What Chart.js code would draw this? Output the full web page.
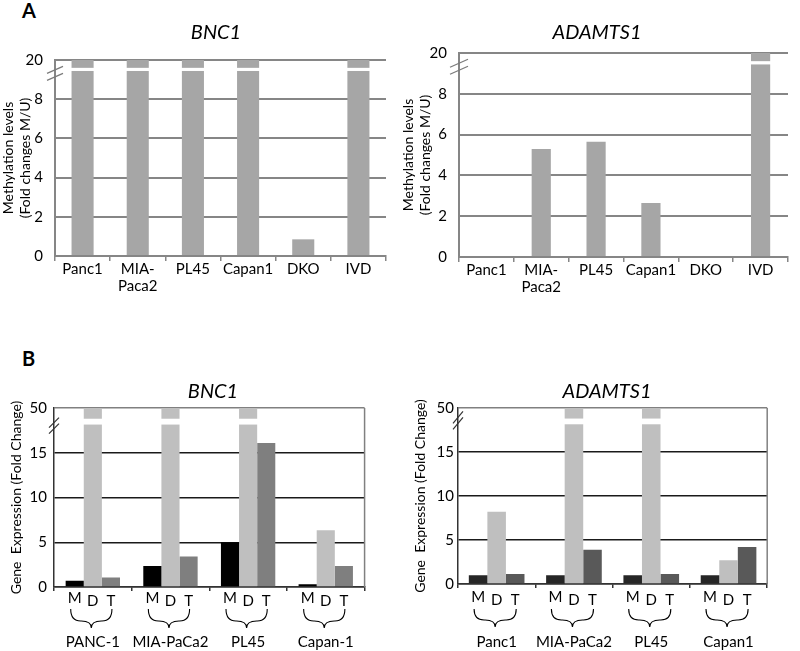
<!DOCTYPE html>
<html><head><meta charset="utf-8">
<script src="https://cdn.jsdelivr.net/npm/chart.js@4.4.1/dist/chart.umd.min.js"></script>
<style>
html,body{margin:0;padding:0;background:#fff;}
body{width:800px;height:651px;position:relative;overflow:hidden;font-family:Lato, sans-serif;}
canvas{position:absolute;}
.letter{position:absolute;font:bold 20px Lato, sans-serif;color:#000;line-height:20px;}
</style></head><body>
<div class="letter" style="left:22px;top:0px">A</div>
<div class="letter" style="left:22px;top:348px">B</div>
<canvas id="a1" width="400" height="300" style="left:0;top:0"></canvas>
<canvas id="a2" width="400" height="300" style="left:400px;top:0"></canvas>
<canvas id="b1" width="400" height="281" style="left:0;top:370px"></canvas>
<canvas id="b2" width="400" height="281" style="left:400px;top:370px"></canvas>
<script>
// ---------- data ----------
const methCategories = ['Panc1', ['MIA-', 'Paca2'], 'PL45', 'Capan1', 'DKO', 'IVD'];
const bnc1Methylation = [20, 20, 20, 20, 0.85, 20];
const adamts1Methylation = [0, 5.3, 5.65, 2.65, 0, 20];
const methTickLabels = {0: '0', 2: '2', 4: '4', 6: '6', 8: '8', 10: '20'};

const treatments = ['M', 'D', 'T'];
const bnc1ExprGroups = ['PANC-1', 'MIA-PaCa2', 'PL45', 'Capan-1'];
const bnc1M = [0.7, 2.35, 5.0, 0.3];
const bnc1D = [50, 50, 50, 6.35];
const bnc1T = [1.05, 3.4, 16.1, 2.35];
const adamts1ExprGroups = ['Panc1', 'MIA-PaCa2', 'PL45', 'Capan1'];
const adamts1M = [1.0, 1.0, 1.0, 1.0];
const adamts1D = [8.2, 50, 50, 2.7];
const adamts1T = [1.15, 3.9, 1.15, 4.2];
const exprTickLabels = {0: '0', 5: '5', 10: '10', 15: '15', 20: '50'};

// axis breaks: values >= label are drawn up to 'top' of the axis
const methBreak = {label: 20, top: 10, gapLow: 9.44, gapHigh: 9.6};
const exprBreak = {label: 50, top: 20, gapLow: 18.15, gapHigh: 18.8};
function axisVal(v, brk) { return v >= brk.label ? brk.top : v; }

// ---------- plugins ----------
Chart.defaults.font.family = 'Lato, sans-serif';
Chart.defaults.color = '#000';

const panelTitle = {
  id: 'panelTitle',
  afterDraw(chart, args, o) {
    const ctx = chart.ctx;
    ctx.save();
    ctx.font = 'italic 20px Lato, sans-serif';
    ctx.fillStyle = '#000';
    ctx.textAlign = 'center';
    ctx.textBaseline = 'middle';
    ctx.fillText(o.text, o.x, o.y);
    ctx.restore();
  }
};

const brokenAxis = {
  id: 'brokenAxis',
  afterDatasetsDraw(chart, args, o) {
    const ctx = chart.ctx, y = chart.scales.y;
    const yHi = y.getPixelForValue(o.brk.gapHigh), yLo = y.getPixelForValue(o.brk.gapLow);
    ctx.save();
    ctx.fillStyle = '#fff';
    chart.data.datasets.forEach((ds, i) => {
      const meta = chart.getDatasetMeta(i);
      ds.rawValues.forEach((v, j) => {
        if (v >= o.brk.label) {
          const el = meta.data[j];
          ctx.fillRect(el.x - el.width / 2 - 1, yHi, el.width + 2, yLo - yHi);
        }
      });
    });
    ctx.restore();
  },
  afterDraw(chart, args, o) {
    const ctx = chart.ctx, y = chart.scales.y;
    const x = chart.chartArea.left;
    const cy = y.getPixelForValue((o.brk.gapHigh + o.brk.gapLow) / 2) + o.markDy;
    ctx.save();
    ctx.strokeStyle = o.markColor;
    ctx.lineWidth = 1.2;
    o.offsets.forEach(off => {
      ctx.beginPath();
      ctx.moveTo(x - o.mx, cy + o.my + off);
      ctx.lineTo(x + o.mx, cy - o.my + off);
      ctx.stroke();
    });
    if (o.rightBorder) {
      ctx.strokeStyle = o.rightBorder;
      ctx.lineWidth = 1.5;
      ctx.beginPath();
      ctx.moveTo(chart.chartArea.right, chart.chartArea.top);
      ctx.lineTo(chart.chartArea.right, chart.chartArea.bottom);
      ctx.stroke();
    }
    ctx.restore();
  }
};

function drawBrace(ctx, x0, x1, top, mid, tip) {
  const xc = (x0 + x1) / 2, r = Math.min(10, (x1 - x0) / 4);
  ctx.beginPath();
  ctx.moveTo(x0, top);
  ctx.quadraticCurveTo(x0, mid, x0 + r, mid);
  ctx.lineTo(xc - r, mid);
  ctx.quadraticCurveTo(xc, mid, xc, tip);
  ctx.quadraticCurveTo(xc, mid, xc + r, mid);
  ctx.lineTo(x1 - r, mid);
  ctx.quadraticCurveTo(x1, mid, x1, top);
  ctx.stroke();
}

const groupMarks = {
  id: 'groupMarks',
  afterDraw(chart, args, o) {
    if (!o.on) return;
    const ctx = chart.ctx, base = chart.chartArea.bottom;
    ctx.save();
    ctx.fillStyle = '#000';
    ctx.font = '15px Lato, sans-serif';
    ctx.textAlign = 'center';
    ctx.textBaseline = 'middle';
    chart.data.datasets.forEach((ds, i) => {
      chart.getDatasetMeta(i).data.forEach(el => ctx.fillText(ds.label, el.x, base + o.letterDy[i]));
    });
    const m0 = chart.getDatasetMeta(0).data, m2 = chart.getDatasetMeta(2).data;
    ctx.strokeStyle = '#000';
    ctx.lineWidth = 1.1;
    m0.forEach((el, j) => drawBrace(ctx, el.x - 4, m2[j].x + 1, base + o.braceTop, base + o.braceMid, base + o.braceTip));
    ctx.restore();
  }
};

Chart.register(panelTitle, brokenAxis, groupMarks);

// ---------- charts ----------
function methChart(id, values, c) {
  return new Chart(document.getElementById(id), {
    type: 'bar',
    data: {
      labels: methCategories,
      datasets: [{
        data: values.map(v => axisVal(v, methBreak)),
        rawValues: values,
        backgroundColor: '#a6a6a6',
        barPercentage: c.barPct,
        categoryPercentage: 1
      }]
    },
    options: {
      responsive: false, animation: false,
      layout: {padding: {left: 0, right: c.padRight, top: c.padTop, bottom: 0}},
      plugins: {
        legend: {display: false}, tooltip: {enabled: false},
        panelTitle: {text: c.title, x: c.titleX, y: c.titleY},
        brokenAxis: {brk: methBreak, markDy: c.markDy, mx: c.mx, my: c.my, offsets: [-3.5, 3.5], markColor: '#7a7a7a'},
        groupMarks: {on: false}
      },
      scales: {
        x: {
          grid: {drawOnChartArea: false, drawTicks: true, tickLength: 5, color: '#868686', lineWidth: 1.5},
          border: {color: '#868686', width: 2},
          ticks: {color: '#000', font: {size: 15, lineHeight: 1.1}, padding: 0, maxRotation: 0, autoSkip: false},
          afterFit(s) { s.height = c.xH; }
        },
        y: {
          min: 0, max: 10,
          ticks: {stepSize: 2, callback: v => methTickLabels[v], color: '#000', font: {size: 15}, padding: c.tickPad},
          grid: {color: '#868686', lineWidth: 2, drawTicks: false},
          border: {color: '#868686', width: 2},
          title: {display: true, text: ['Methylation levels', '(Fold changes M/U)'], color: '#000', font: {size: 14, lineHeight: 1.2}, padding: {top: 0, bottom: 0}},
          afterFit(s) { s.width = c.yW; }
        }
      }
    }
  });
}

function exprChart(id, groups, m, d, t, c) {
  const sets = [m, d, t];
  return new Chart(document.getElementById(id), {
    type: 'bar',
    data: {
      labels: groups,
      datasets: sets.map((vals, i) => ({
        label: treatments[i],
        data: vals.map(v => axisVal(v, exprBreak)),
        rawValues: vals,
        backgroundColor: c.colors[i],
        barPercentage: 1,
        categoryPercentage: c.catPct
      }))
    },
    options: {
      responsive: false, animation: false,
      layout: {padding: {left: 0, right: c.padRight, top: c.padTop, bottom: 0}},
      plugins: {
        legend: {display: false}, tooltip: {enabled: false},
        panelTitle: {text: c.title, x: c.titleX, y: c.titleY},
        brokenAxis: {brk: exprBreak, markDy: c.markDy, mx: c.mx, my: c.my, offsets: [-3, 3], markColor: '#333', rightBorder: '#808080'},
        groupMarks: {on: true, letterDy: c.letterDy, braceTop: c.braceTop, braceMid: c.braceMid, braceTip: c.braceTip}
      },
      scales: {
        x: {
          grid: {drawOnChartArea: false, drawTicks: true, tickLength: 4, color: '#333', lineWidth: 1.5},
          border: {color: '#333', width: 1.5},
          ticks: {color: '#000', font: {size: 15, lineHeight: 1.1}, padding: c.labelPad, maxRotation: 0, autoSkip: false},
          afterFit(s) { s.height = c.xH; }
        },
        y: {
          min: 0, max: 20,
          ticks: {stepSize: 5, callback: v => exprTickLabels[v], color: '#000', font: {size: 15}, padding: c.tickPad},
          grid: {color: ctx => ctx.tick && ctx.tick.value === 20 ? '#808080' : '#1a1a1a', lineWidth: 1.5, drawTicks: false},
          border: {color: '#333', width: 1.5},
          title: {display: true, text: 'Gene  Expression (Fold Change)', color: '#000', font: {size: 14, lineHeight: 1.2}, padding: {top: c.titlePad, bottom: 0}},
          afterFit(s) { s.width = c.yW; }
        }
      }
    }
  });
}

methChart('a1', bnc1Methylation, {barPct: 0.4, padRight: 14, padTop: 60, xH: 44, yW: 55, tickPad: 12,
  title: 'BNC1', titleX: 216, titleY: 33, markDy: 4, mx: 8, my: 3.5});
methChart('a2', adamts1Methylation, {barPct: 0.35, padRight: 12, padTop: 53, xH: 43, yW: 59, tickPad: 12,
  title: 'ADAMTS1', titleX: 197, titleY: 33, markDy: 4, mx: 9, my: 4});

exprChart('b1', bnc1ExprGroups, bnc1M, bnc1D, bnc1T, {
  colors: ['#000000', '#bfbfbf', '#7f7f7f'], catPct: 0.7,
  padRight: 26, padTop: 38, xH: 64, yW: 54, tickPad: 7, titlePad: 8, labelPad: 43,
  title: 'BNC1', titleX: 213, titleY: 22, markDy: 4, mx: 5, my: 5,
  letterDy: [11, 14, 14], braceTop: 22, braceMid: 34, braceTip: 41});
exprChart('b2', adamts1ExprGroups, adamts1M, adamts1D, adamts1T, {
  colors: ['#262626', '#bfbfbf', '#595959'], catPct: 0.72,
  padRight: 2, padTop: 38, xH: 67, yW: 58, tickPad: 4, titlePad: 12, labelPad: 46,
  title: 'ADAMTS1', titleX: 207, titleY: 22, markDy: -1, mx: 5, my: 6,
  letterDy: [13, 16, 16], braceTop: 25, braceMid: 36, braceTip: 43});
</script>
</body></html>
